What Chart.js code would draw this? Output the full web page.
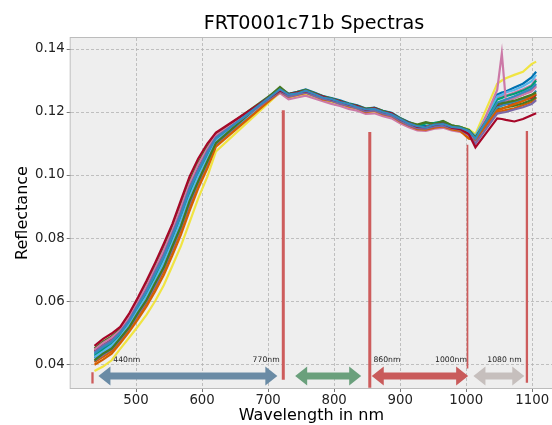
<!DOCTYPE html>
<html>
<head>
<meta charset="utf-8">
<script src="https://cdn.jsdelivr.net/npm/chart.js@4.4.1/dist/chart.umd.min.js"></script>
<style>
  html, body { margin: 0; padding: 0; background: #ffffff; }
  canvas { display: block; }
</style>
</head>
<body>
<canvas id="spectraChart" width="552" height="425"></canvas>
<script>
// wavelengths (nm) shared by every spectrum
const wavelengths = [437, 450, 463, 476, 490, 503, 516, 529, 542, 555, 568, 581, 594, 608, 621,
    718, 731, 744, 757, 770, 783, 796, 809, 822, 835, 848, 861, 874, 887, 900, 913, 926, 939, 952, 965, 978, 991, 1004, 1014,
    1047, 1054, 1060, 1073, 1086, 1099, 1106];

// reflectance per spectrum
const spec01 = [.0434, .0454, .0470, .0499, .0537, .0586, .0631, .0687, .0740, .0807, .0875, .0954, .1012, .1070, .1117,
    .1272, .1255, .1259, .1268, .1257, .1246, .1241, .1232, .1225, .1216, .1208, .1210, .1200, .1193, .1178, .1164, .1155, .1151, .1160, .1162, .1153, .1150, .1140, .1115,
    .1230, .1236, .1240, .1250, .1262, .1275, .1290];
const spec02 = [.0458, .0480, .0497, .0518, .0562, .0612, .0665, .0722, .0782, .0845, .0920, .0995, .1052, .1100, .1135,
    .1268, .1256, .1262, .1266, .1258, .1249, .1240, .1234, .1224, .1219, .1207, .1212, .1200, .1196, .1177, .1165, .1153, .1152, .1159, .1163, .1150, .1146, .1130, .1088,
    .1180, .1178, .1175, .1170, .1178, .1190, .1196];
const spec03 = [.0438, .0459, .0475, .0502, .0541, .0590, .0636, .0694, .0747, .0814, .0882, .0961, .1018, .1076, .1120,
    .1266, .1249, .1255, .1262, .1251, .1242, .1236, .1226, .1220, .1211, .1202, .1205, .1195, .1188, .1172, .1158, .1149, .1147, .1154, .1157, .1149, .1144, .1128, .1100,
    .1195, .1198, .1200, .1208, .1215, .1225, .1238];
const spec04 = [.0412, .0433, .0449, .0482, .0518, .0563, .0604, .0657, .0707, .0774, .0838, .0917, .0980, .1044, .1102,
    .1280, .1257, .1263, .1270, .1260, .1250, .1243, .1235, .1226, .1220, .1210, .1213, .1203, .1196, .1180, .1167, .1160, .1168, .1162, .1172, .1158, .1152, .1142, .1120,
    .1225, .1228, .1230, .1236, .1245, .1255, .1262];
const spec05 = [.0398, .0414, .0433, .0466, .0504, .0543, .0584, .0631, .0683, .0745, .0811, .0886, .0957, .1021, .1090,
    .1265, .1248, .1254, .1261, .1252, .1240, .1235, .1227, .1218, .1212, .1200, .1204, .1193, .1187, .1170, .1157, .1146, .1144, .1150, .1154, .1145, .1140, .1115, .1112,
    .1205, .1210, .1215, .1225, .1235, .1248, .1258];
const spec06 = [.0446, .0467, .0484, .0507, .0550, .0598, .0649, .0704, .0762, .0825, .0898, .0973, .1033, .1084, .1126,
    .1260, .1240, .1246, .1252, .1243, .1234, .1226, .1219, .1210, .1204, .1194, .1196, .1187, .1180, .1164, .1152, .1142, .1140, .1147, .1150, .1142, .1137, .1126, .1108,
    .1270, .1386, .1238, .1245, .1255, .1265, .1280];
const spec07 = [.0422, .0440, .0459, .0486, .0527, .0571, .0616, .0667, .0723, .0785, .0855, .0930, .0995, .1053, .1108,
    .1268, .1253, .1259, .1266, .1256, .1246, .1239, .1231, .1223, .1216, .1206, .1209, .1199, .1193, .1176, .1163, .1153, .1151, .1159, .1161, .1153, .1149, .1139, .1125,
    .1250, .1255, .1262, .1270, .1282, .1298, .1318];
const spec08 = [.0426, .0445, .0463, .0490, .0531, .0575, .0622, .0673, .0729, .0792, .0862, .0937, .1001, .1058, .1111,
    .1274, .1256, .1262, .1269, .1259, .1249, .1242, .1234, .1226, .1219, .1209, .1212, .1202, .1196, .1179, .1166, .1156, .1164, .1166, .1170, .1157, .1152, .1143, .1122,
    .1240, .1245, .1250, .1258, .1268, .1282, .1300];
const spec09 = [.0378, .0392, .0412, .0448, .0485, .0520, .0557, .0600, .0650, .0712, .0775, .0850, .0925, .0995, .1075,
    .1262, .1244, .1250, .1256, .1247, .1238, .1230, .1222, .1214, .1207, .1197, .1200, .1190, .1184, .1168, .1158, .1152, .1152, .1160, .1163, .1156, .1152, .1145, .1130,
    .1290, .1300, .1307, .1318, .1328, .1352, .1360];
const spec10 = [.0430, .0449, .0467, .0494, .0535, .0580, .0627, .0679, .0736, .0798, .0869, .0944, .1008, .1063, .1114,
    .1276, .1258, .1264, .1272, .1262, .1251, .1244, .1237, .1228, .1221, .1211, .1214, .1204, .1198, .1181, .1168, .1158, .1155, .1163, .1165, .1157, .1153, .1142, .1118,
    .1255, .1262, .1265, .1278, .1290, .1310, .1328];
const spec11 = [.0418, .0436, .0455, .0483, .0524, .0566, .0611, .0661, .0716, .0779, .0848, .0923, .0989, .1048, .1105,
    .1270, .1251, .1257, .1264, .1254, .1244, .1237, .1229, .1221, .1214, .1204, .1207, .1197, .1191, .1174, .1161, .1151, .1149, .1157, .1159, .1151, .1147, .1137, .1116,
    .1215, .1220, .1225, .1232, .1240, .1250, .1268];
const spec12 = [.0442, .0462, .0480, .0504, .0547, .0594, .0643, .0698, .0756, .0818, .0891, .0966, .1027, .1079, .1123,
    .1267, .1250, .1256, .1263, .1253, .1243, .1236, .1228, .1220, .1213, .1203, .1206, .1196, .1190, .1173, .1160, .1150, .1148, .1156, .1158, .1150, .1146, .1134, .1110,
    .1220, .1222, .1225, .1228, .1238, .1245, .1255];
const spec13 = [.0410, .0429, .0447, .0477, .0515, .0557, .0600, .0649, .0703, .0765, .0833, .0908, .0976, .1037, .1099,
    .1271, .1250, .1256, .1265, .1253, .1245, .1236, .1230, .1220, .1215, .1203, .1208, .1196, .1192, .1173, .1162, .1150, .1150, .1156, .1160, .1150, .1148, .1135, .1105,
    .1228, .1232, .1236, .1245, .1256, .1270, .1285];
const spec14 = [.0450, .0471, .0488, .0511, .0554, .0603, .0654, .0710, .0769, .0832, .0906, .0981, .1039, .1090, .1129,
    .1275, .1254, .1262, .1267, .1258, .1247, .1242, .1232, .1226, .1217, .1209, .1210, .1202, .1194, .1179, .1164, .1156, .1152, .1162, .1162, .1156, .1150, .1141, .1112,
    .1210, .1212, .1215, .1220, .1228, .1238, .1248];
const spec15 = [.0406, .0423, .0441, .0473, .0512, .0552, .0595, .0643, .0696, .0759, .0826, .0901, .0970, .1031, .1096,
    .1266, .1251, .1255, .1264, .1252, .1244, .1235, .1229, .1219, .1214, .1202, .1207, .1195, .1191, .1172, .1161, .1149, .1149, .1155, .1159, .1149, .1147, .1120, .1114,
    .1200, .1203, .1206, .1212, .1222, .1232, .1245];
const spec16 = [.0420, .0437, .0454, .0484, .0522, .0567, .0610, .0662, .0715, .0780, .0846, .0924, .0988, .1049, .1104,
    .1263, .1247, .1251, .1260, .1248, .1240, .1231, .1225, .1215, .1210, .1198, .1203, .1191, .1187, .1168, .1157, .1145, .1145, .1151, .1155, .1145, .1143, .1131, .1113,
    .1245, .1250, .1252, .1262, .1272, .1285, .1305];

const spectra = [spec01, spec02, spec03, spec04, spec05, spec06, spec07, spec08,
    spec09, spec10, spec11, spec12, spec13, spec14, spec15, spec16];

// vertical marker lines (nm, reflectance range)
const markerX = [434, 723, 854, 1002, 1092];
const markerBottom = [0.0338, 0.0350, 0.0325, 0.0386, 0.0341];
const markerTop = [0.0374, 0.1206, 0.1137, 0.1096, 0.1140];

// band arrows and their labels
const arrowFrom = [443, 741, 857, 1011];
const arrowTo = [714, 841, 1003, 1088];
const arrowLevel = 0.0362;
const bandLabels = ['440nm', '770nm', '860nm', '1000nm', '1080 nm'];
const bandLabelX = [486, 697, 880, 977, 1058];
const bandLabelLevel = 0.0414;

const xTicks = [500, 600, 700, 800, 900, 1000, 1100];
const yTicks = [0.04, 0.06, 0.08, 0.10, 0.12, 0.14];

const colors = ['#348ABD', '#A60628', '#7A68A6', '#467821', '#D55E00',
    '#CC79A7', '#56B4E9', '#009E73', '#F0E442', '#0072B2'];
const markerWidths = [2.3, 3, 3, 1.7, 2.3];
const arrowColors = ['#6a8ba5', '#6aa07c', '#c95b5b', '#c6bfbd'];

const datasets = spectra.map(function(spec, i) {
    return {
        data: wavelengths.map(function(w, j) { return {x: w, y: spec[j]}; }),
        borderColor: colors[i % colors.length],
        borderWidth: 2.2,
        pointRadius: 0,
        tension: 0,
        fill: false
    };
});

markerX.forEach(function(x, i) {
    datasets.push({
        data: [{x: x, y: markerBottom[i]}, {x: x, y: markerTop[i]}],
        borderColor: '#cd5c5c',
        borderWidth: markerWidths[i],
        pointRadius: 0,
        fill: false
    });
});

const plotDecor = {
    id: 'plotDecor',
    beforeDraw: function(chart) {
        const ctx = chart.ctx, a = chart.chartArea;
        ctx.save();
        ctx.fillStyle = '#ffffff';
        ctx.fillRect(0, 0, chart.width, chart.height);
        ctx.fillStyle = '#eeeeee';
        ctx.fillRect(a.left, a.top, a.right - a.left, a.bottom - a.top);
        ctx.restore();
    },
    beforeDatasetsDraw: function(chart) {
        const ctx = chart.ctx, a = chart.chartArea;
        ctx.save();
        ctx.strokeStyle = '#bcbcbc';
        ctx.lineWidth = 1;
        ctx.strokeRect(a.left - 0.5, a.top - 0.5, a.right - a.left + 6, a.bottom - a.top + 1);
        ctx.restore();
    },
    afterDatasetsDraw: function(chart) {
        const ctx = chart.ctx;
        const xs = chart.scales.x, ys = chart.scales.y;
        const y = ys.getPixelForValue(arrowLevel);
        const sw = 3.5, hw = 9.5, hl = 12;
        ctx.save();
        arrowFrom.forEach(function(from, i) {
            const x1 = xs.getPixelForValue(from), x2 = xs.getPixelForValue(arrowTo[i]);
            ctx.fillStyle = arrowColors[i];
            ctx.beginPath();
            ctx.moveTo(x1, y);
            ctx.lineTo(x1 + hl, y - hw);
            ctx.lineTo(x1 + hl, y - sw);
            ctx.lineTo(x2 - hl, y - sw);
            ctx.lineTo(x2 - hl, y - hw);
            ctx.lineTo(x2, y);
            ctx.lineTo(x2 - hl, y + hw);
            ctx.lineTo(x2 - hl, y + sw);
            ctx.lineTo(x1 + hl, y + sw);
            ctx.lineTo(x1 + hl, y + hw);
            ctx.closePath();
            ctx.fill();
        });
        ctx.fillStyle = '#222222';
        ctx.font = '7.7px "DejaVu Sans"';
        ctx.textAlign = 'center';
        ctx.textBaseline = 'middle';
        const ly = ys.getPixelForValue(bandLabelLevel);
        bandLabels.forEach(function(t, i) {
            ctx.fillText(t, xs.getPixelForValue(bandLabelX[i]), ly);
        });
        ctx.restore();
    },
    afterDraw: function(chart) {
        const ctx = chart.ctx;
        ctx.save();
        ctx.fillStyle = '#000000';
        ctx.font = '19.2px "DejaVu Sans"';
        ctx.textAlign = 'center';
        ctx.textBaseline = 'middle';
        ctx.fillText('FRT0001c71b Spectras', 314, 24);
        ctx.restore();
    }
};

new Chart(document.getElementById('spectraChart'), {
    type: 'line',
    data: { datasets: datasets },
    plugins: [plotDecor],
    options: {
        responsive: false,
        animation: false,
        devicePixelRatio: 1,
        layout: { padding: { top: 38, right: 0, bottom: 0, left: 0 } },
        plugins: {
            legend: { display: false },
            tooltip: { enabled: false },
            title: { display: false }
        },
        scales: {
            x: {
                type: 'linear',
                min: 401,
                max: 1130,
                afterBuildTicks: function(s) { s.ticks = xTicks.map(function(v) { return {value: v}; }); },
                afterFit: function(s) { s.height = 37; s.paddingLeft = 0; s.paddingRight = 0; },
                grid: { color: '#b2b2b2', lineWidth: 0.8, tickColor: '#555555', tickLength: 4 },
                border: { display: false, dash: [3, 2] },
                ticks: {
                    color: '#222222',
                    padding: 1,
                    maxRotation: 0,
                    font: { family: 'DejaVu Sans', size: 13.3 },
                    callback: function(v) { return String(v); }
                },
                title: {
                    display: true,
                    text: 'Wavelength in nm',
                    color: '#000000',
                    font: { family: 'DejaVu Sans', size: 16 },
                    padding: { top: 0, bottom: 0 }
                }
            },
            y: {
                type: 'linear',
                min: 0.0324,
                max: 0.1435,
                afterBuildTicks: function(s) { s.ticks = yTicks.map(function(v) { return {value: v}; }); },
                afterFit: function(s) { s.width = 70.7; s.paddingTop = 0; s.paddingBottom = 0; },
                grid: { color: '#b2b2b2', lineWidth: 0.8, tickColor: '#555555', tickLength: 4 },
                border: { display: false, dash: [3, 2] },
                ticks: {
                    color: '#222222',
                    padding: 2,
                    font: { family: 'DejaVu Sans', size: 13.3 },
                    callback: function(v) { return v.toFixed(2); }
                },
                title: {
                    display: true,
                    text: 'Reflectance',
                    color: '#000000',
                    font: { family: 'DejaVu Sans', size: 16 },
                    padding: { top: 12.9, bottom: 0 }
                }
            }
        }
    }
});
</script>
</body>
</html>
